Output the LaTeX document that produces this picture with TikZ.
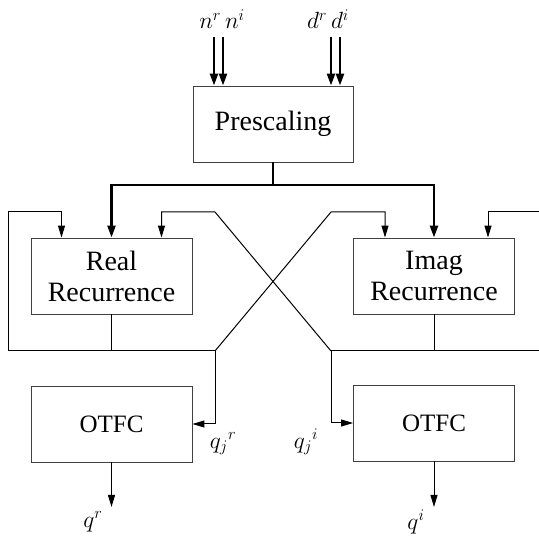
\documentclass[tikz,border=0pt]{standalone}
\usepackage{graphicx}
\usepackage{fontspec}
\setmainfont{Liberation Serif}
\usetikzlibrary{arrows.meta}
\newcommand{\mlab}[1]{\scalebox{1.13}{$#1$}}
\begin{document}
\begin{tikzpicture}[x=1pt,y=-1pt,
  blk/.style={draw=black!75, line width=0.9pt, inner sep=0pt, align=center,
    font=\fontsize{28}{31}\selectfont},
  otfcbox/.style={blk, minimum width=161pt, minimum height=76pt, font=\fontsize{25}{28}\selectfont},
  recbox/.style={blk, minimum width=161pt, minimum height=76pt},
  lbl/.style={inner sep=0pt, font=\fontsize{20.74}{24}\selectfont},
  ln/.style={line width=1pt, line join=miter},
  bold/.style={line width=2.4pt},
  arr/.style={-{Triangle[length=12pt,width=7pt]}},
  barr/.style={-{Triangle[length=12pt,width=8pt]}}
]
\useasboundingbox (0,0) rectangle (539,537);

% blocks
\node[blk, minimum width=160pt, minimum height=76pt] (pre) at (273,124) {Prescaling};
\node[recbox] (real) at (111.5,276) {Real\\Recurrence};
\node[recbox] (imag) at (434,276) {Imag\\Recurrence};
\node[otfcbox] (otfcr) at (111.5,424) {OTFC};
\node[otfcbox] (otfci) at (434,423) {OTFC};

% input labels
\node[lbl] (nlab) at (222,19) {\mlab{n^r\, n^i}};
\node[lbl] (dlab) at (328,19) {\mlab{d^r\, d^i}};

% input arrows
\coordinate (nrs) at (214,37);
\coordinate (nis) at (223,37);
\coordinate (drs) at (331,37);
\coordinate (dis) at (340,37);
\draw[bold,barr] (nrs) -- (nrs |- pre.north);
\draw[bold,barr] (nis) -- (nis |- pre.north);
\draw[bold,barr] (drs) -- (drs |- pre.north);
\draw[bold,barr] (dis) -- (dis |- pre.north);

% thick distribution bus
\coordinate (bj) at (273,185);
\draw[bold] (pre.south) -- (bj);
\draw[bold,barr] (bj) -| (real.north);
\draw[bold,barr] (bj) -| (imag.north);

% real recurrence output
\coordinate (rb) at (111.5,351);
\coordinate (ll) at (8,351);
\coordinate (lt) at (8,212);
\coordinate (xr) at (215,351);
\coordinate (xrt) at (331,212);
\draw[ln] (real.south) -- (rb);
\draw[ln,arr] (rb) -- (ll) -- (lt) -| ([xshift=-50pt]real.north);
\draw[ln] (rb) -- (xr);
\draw[ln,arr] (xr) |- (otfcr.east);
\draw[ln,arr] (xr) -- (xrt) -| ([xshift=-49pt]imag.north);

% imag recurrence output
\coordinate (ib) at (434,351);
\coordinate (xi) at (331,351);
\coordinate (xit) at (215,212);
\coordinate (re) at (539,351);
\coordinate (rt) at (539,212);
\draw[ln] (imag.south) -- (ib);
\draw[ln] (ib) -- (xi);
\draw[ln] (ib) -- (re);
\draw[ln,arr] (xi) |- (otfci.west);
\draw[ln,arr] (xi) -- (xit) -| ([xshift=50pt]real.north);
\draw[ln,arr] (rt) -| ([xshift=54pt]imag.north);

% OTFC outputs
\coordinate (qro) at (111.5,507);
\coordinate (qio) at (434,507);
\draw[ln,arr] (otfcr.south) -- (qro);
\draw[ln,arr] (otfci.south) -- (qio);

% labels
\node[lbl] (qjr) at (223,444) {\mlab{{q_j}^r}};
\node[lbl] (qji) at (306,442) {\mlab{{q_j}^i}};
\node[lbl] (qr) at (93,522) {\mlab{q^r}};
\node[lbl] (qi) at (416,522) {\mlab{q^i}};
\end{tikzpicture}
\end{document}
